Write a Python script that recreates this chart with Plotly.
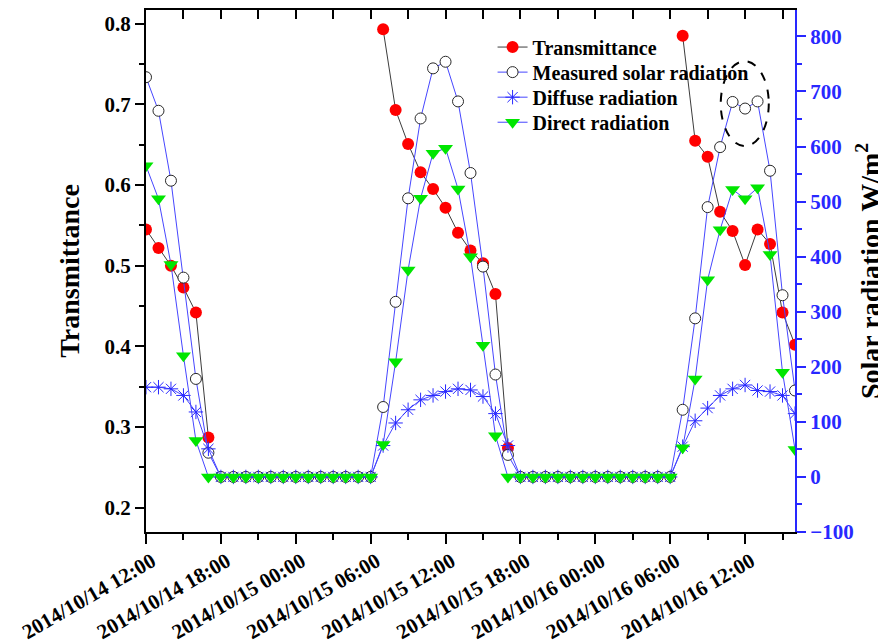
import pandas as pd
import plotly.graph_objects as go

# ---------------- data (hourly, starting 2014/10/14 12:00) ----------------
times = pd.date_range("2014-10-14 12:00", periods=53, freq="h")

NIGHT = [None] * 13
ZERO = [0] * 13

transmittance = ([0.545, 0.522, 0.500, 0.473, 0.442, 0.287] + NIGHT +
                 [0.793, 0.693, 0.651, 0.616, 0.595, 0.572, 0.541, 0.519, 0.503, 0.465, 0.274] + NIGHT +
                 [0.785, 0.655, 0.635, 0.567, 0.543, 0.501, 0.545, 0.527, 0.442, 0.402])

measured = ([726, 665, 538, 362, 178, 44] + ZERO +
            [127, 318, 506, 651, 742, 754, 682, 552, 382, 186, 40] + ZERO +
            [122, 288, 490, 599, 681, 669, 682, 556, 330, 157])

diffuse = ([163, 163, 160, 148, 118, 51] + ZERO +
           [57, 98, 122, 140, 148, 155, 160, 158, 146, 115, 57] + ZERO +
           [55, 102, 125, 148, 160, 167, 157, 155, 148, 115])

direct = ([565, 505, 386, 220, 66, 0] + ZERO +
          [59, 209, 376, 506, 588, 597, 523, 400, 239, 75, 0] + ZERO +
          [53, 178, 358, 449, 522, 505, 525, 404, 190, 50])

FONT = "Liberation Serif"
BLUE = "rgb(40,40,255)"
LINEBLUE = "rgb(70,70,255)"

fig = go.Figure()

fig.add_trace(go.Scatter(
    x=times, y=transmittance, name="Transmittance", mode="lines+markers",
    line=dict(color="rgb(60,60,60)", width=1), connectgaps=False,
    marker=dict(symbol="circle", size=12, color="red", line=dict(width=0)),
    yaxis="y", legend="legend"))

fig.add_trace(go.Scatter(
    x=times, y=measured, name="Measured solar radiation", mode="lines+markers",
    line=dict(color=LINEBLUE, width=1),
    marker=dict(symbol="circle", size=11, color="white",
                line=dict(color="rgb(40,40,40)", width=1)),
    yaxis="y2", legend="legend2"))

fig.add_trace(go.Scatter(
    x=times, y=diffuse, name="Diffuse radiation", mode="lines+markers",
    line=dict(color=LINEBLUE, width=1),
    marker=dict(symbol="asterisk-open", size=12, color=BLUE,
                line=dict(color=BLUE, width=1)),
    yaxis="y2", legend="legend3"))

fig.add_trace(go.Scatter(
    x=times, y=direct, name="Direct radiation", mode="lines+markers",
    line=dict(color=LINEBLUE, width=1),
    marker=dict(symbol="triangle-down", size=13, color="rgb(0,230,0)", line=dict(width=0)),
    yaxis="y2", legend="legend4"))

# invisible trace for the top (mirror) axis
fig.add_trace(go.Scatter(x=[times[0]], y=[None], xaxis="x2", yaxis="y",
                         showlegend=False, hoverinfo="skip", mode="markers"))

xr = ["2014-10-14 12:00", "2014-10-16 16:00"]


def leg(ypos):
    return dict(x=0.534, y=ypos, xanchor="left", yanchor="middle",
                bgcolor="rgba(0,0,0,0)", borderwidth=0,
                font=dict(family=FONT, size=20, weight="bold", color="black"))


fig.update_layout(
    width=878, height=635,
    margin=dict(l=138, r=91, t=2, b=111),
    paper_bgcolor="white", plot_bgcolor="white",
    font=dict(family=FONT, color="black"),
    showlegend=True,
    legend=leg(0.929), legend2=leg(0.881), legend3=leg(0.833), legend4=leg(0.785),
    xaxis=dict(
        type="date", range=xr, dtick=6 * 3600 * 1000, tick0="2014-10-14 12:00",
        tickformat="%Y/%m/%d %H:%M", tickangle=-30, automargin=False,
        ticklabelstandoff=-3, ticklabelshift=6,
        tickfont=dict(family=FONT, size=21, weight="bold", color="black"),
        showgrid=False, zeroline=False,
        showline=True, linecolor="black", linewidth=2,
        ticks="outside", ticklen=10, tickwidth=2, tickcolor="black",
        minor=dict(dtick=3 * 3600 * 1000, ticks="outside", ticklen=6, tickwidth=2,
                   tickcolor="black", showgrid=False),
    ),
    xaxis2=dict(
        type="date", overlaying="x", side="top", matches="x", range=xr,
        dtick=3 * 3600 * 1000, tick0="2014-10-14 12:00", automargin=False,
        showticklabels=False, showgrid=False, zeroline=False,
        showline=True, linecolor="black", linewidth=2,
        ticks="inside", ticklen=9, tickwidth=2, tickcolor="black",
    ),
    yaxis=dict(
        range=[0.17, 0.817], dtick=0.1, tick0=0.2, tickformat=".1f", automargin=False,
        tickfont=dict(family=FONT, size=21, weight="bold", color="black"),
        title=dict(text="<b>Transmittance</b>", standoff=17,
                   font=dict(family=FONT, size=28, color="black")),
        showgrid=False, zeroline=False,
        showline=True, linecolor="black", linewidth=2,
        ticks="outside", ticklen=9, tickwidth=2, tickcolor="black",
        minor=dict(dtick=0.05, ticks="outside", ticklen=5, tickwidth=2,
                   tickcolor="black", showgrid=False),
    ),
    yaxis2=dict(
        overlaying="y", side="right", anchor="x", automargin=False,
        range=[-100, 848], dtick=100, tick0=0,
        tickfont=dict(family=FONT, size=21, weight="bold", color=BLUE),
        title=dict(text="<b>Solar radiation W/m<sup>2</sup></b>", standoff=8,
                   font=dict(family=FONT, size=28, color="black")),
        showgrid=False, zeroline=False,
        showline=True, linecolor=BLUE, linewidth=2,
        ticks="outside", ticklen=9, tickwidth=2, tickcolor=BLUE,
        minor=dict(dtick=50, ticks="outside", ticklen=5, tickwidth=2,
                   tickcolor=BLUE, showgrid=False),
    ),
    shapes=[dict(type="circle", xref="x", yref="y2",
                 x0="2014-10-16 10:03", x1="2014-10-16 13:54", y0=601, y1=755,
                 line=dict(color="black", width=2, dash="dash"))],
)

fig.write_html("out.html")
